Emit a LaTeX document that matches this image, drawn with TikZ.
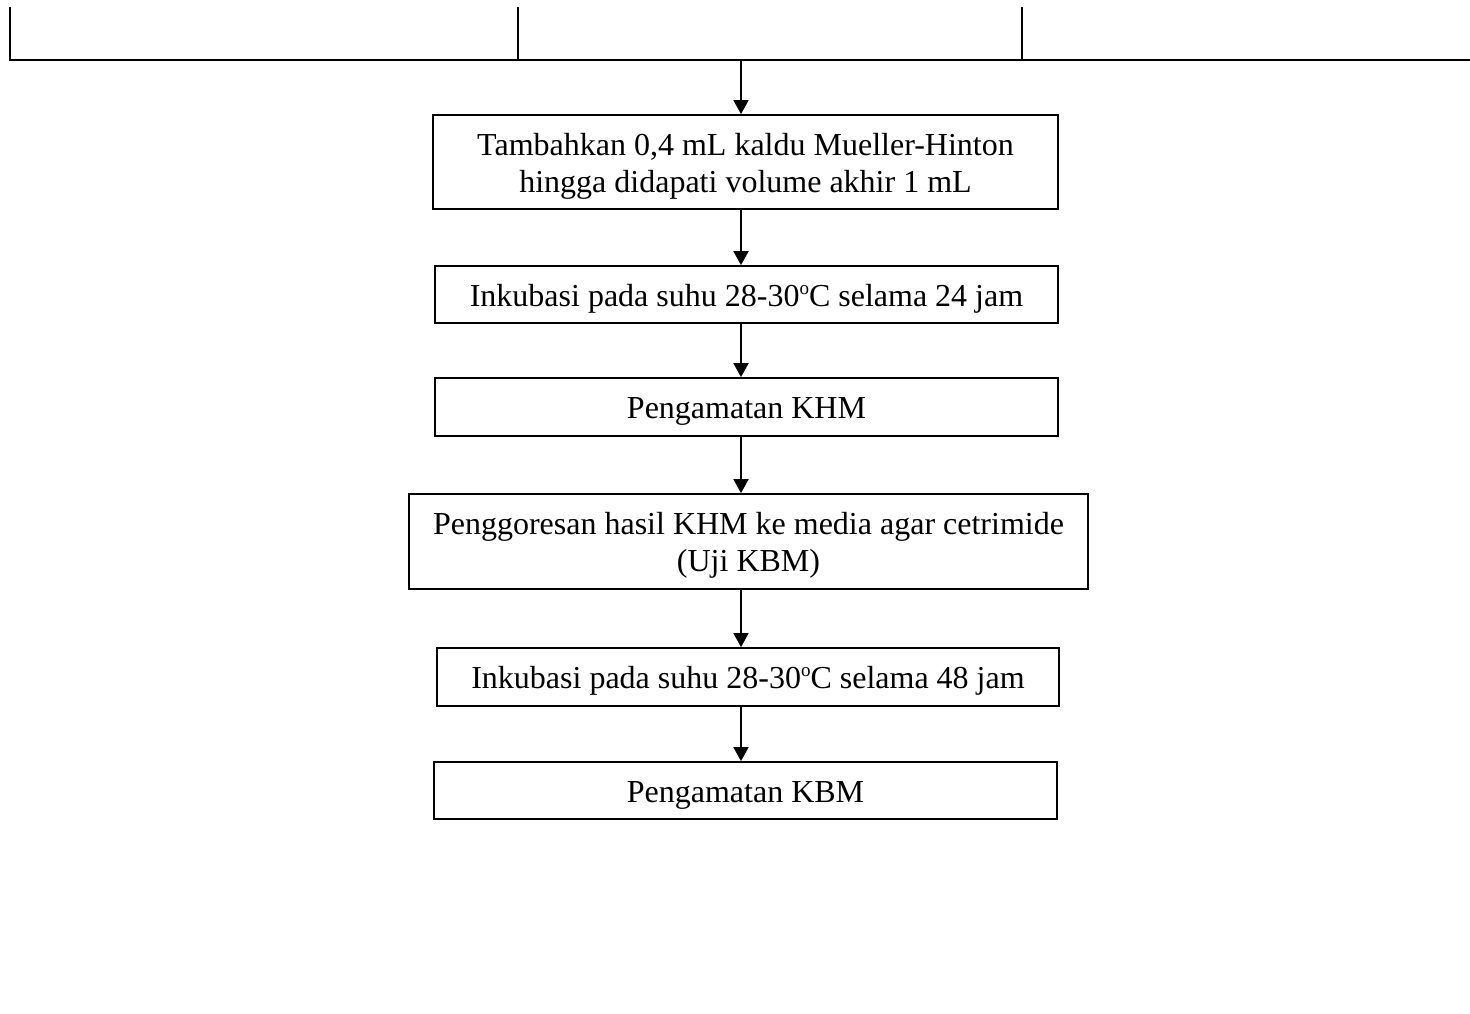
\documentclass[tikz,border=0pt]{standalone}
\usepackage{fontspec}
\setmainfont{Liberation Serif}
\usetikzlibrary{arrows.meta}
% small raised "o" used for the degree mark
\newcommand{\degmark}{{\fontsize{19}{19}\selectfont\raisebox{12pt}{o}}}
\begin{document}
\begin{tikzpicture}[x=1pt,y=-1pt,
  stepbox/.style={draw, line width=1.8pt, rectangle, inner sep=0pt, align=center,
    font=\fontsize{32}{37}\selectfont},
  flow/.style={line width=1.8pt, -{Triangle[width=15pt,length=14pt]}},
  rule/.style={line width=1.6pt}]
\useasboundingbox (0,0) rectangle (1470,1014);

% table rule at the top
\coordinate (tl) at (10,7);
\coordinate (tm) at (518,7);
\coordinate (tr) at (1022,7);
\coordinate (hl) at (10,60);
\coordinate (hr) at (1470,60);
\draw[rule] (tl) -- (hl) -- (hr);
\draw[rule] (tm) -- (tm |- hl);
\draw[rule] (tr) -- (tr |- hl);
\coordinate (src) at (741,60);

% steps
\node[stepbox, minimum width=625pt, minimum height=94pt] (s1) at (745.5,162)
  {\rule{0pt}{30pt}Tambahkan 0,4 mL kaldu Mueller-Hinton\\hingga didapati volume akhir 1 mL};
\node[stepbox, minimum width=623pt, minimum height=57pt] (s2) at (746.5,294.5)
  {\rule{0pt}{30pt}Inkubasi pada suhu 28-30\degmark C selama 24 jam};
\node[stepbox, minimum width=623pt, minimum height=58pt] (s3) at (746.5,407)
  {\rule{0pt}{30pt}Pengamatan KHM};
\node[stepbox, minimum width=679pt, minimum height=95pt] (s4) at (748.5,541.5)
  {\rule{0pt}{30pt}Penggoresan hasil KHM ke media agar cetrimide\\(Uji KBM)};
\node[stepbox, minimum width=622pt, minimum height=58pt] (s5) at (748,677)
  {\rule{0pt}{30pt}Inkubasi pada suhu 28-30\degmark C selama 48 jam};
\node[stepbox, minimum width=623pt, minimum height=57pt] (s6) at (745.5,790.5)
  {\rule{0pt}{30pt}Pengamatan KBM};

% connectors
\draw[flow] (src) -- (src |- s1.north);
\draw[flow] (s1.south -| src) -- (s2.north -| src);
\draw[flow] (s2.south -| src) -- (s3.north -| src);
\draw[flow] (s3.south -| src) -- (s4.north -| src);
\draw[flow] (s4.south -| src) -- (s5.north -| src);
\draw[flow] (s5.south -| src) -- (s6.north -| src);
\end{tikzpicture}
\end{document}
